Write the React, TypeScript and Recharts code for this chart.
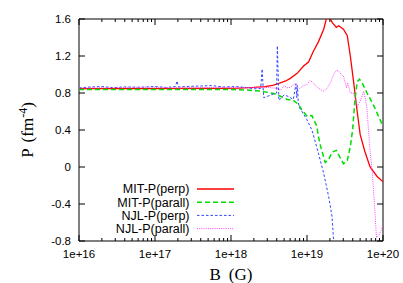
import { LineChart, Line, XAxis, YAxis, ReferenceArea, Legend, Label } from "recharts";

// log10(B) and P for each curve
const mitPerpLogB = [16, 16.5, 17, 17.5, 17.9, 18.1, 18.3, 18.45, 18.56, 18.65, 18.72, 18.78, 18.87, 18.955, 19.02, 19.086, 19.15, 19.22, 19.26, 19.29, 19.33, 19.386, 19.417, 19.48, 19.53, 19.57, 19.615, 19.66, 19.7, 19.76, 19.83, 19.92, 20];
const mitPerpP = [0.848, 0.848, 0.848, 0.849, 0.85, 0.853, 0.86, 0.87, 0.885, 0.91, 0.93, 0.958, 1.012, 1.092, 1.135, 1.255, 1.353, 1.49, 1.62, 1.636, 1.564, 1.51, 1.527, 1.49, 1.42, 1.2, 0.91, 0.6, 0.35, 0.17, 0.0, -0.1, -0.16];

const mitParLogB = [16, 17, 18, 18.2, 18.4, 18.56, 18.65, 18.74, 18.82, 18.89, 18.93, 19.0, 19.065, 19.13, 19.15, 19.18, 19.24, 19.285, 19.33, 19.386, 19.417, 19.48, 19.53, 19.57, 19.6, 19.63, 19.66, 19.69, 19.725, 19.79, 19.88, 20];
const mitParP = [0.838, 0.838, 0.838, 0.833, 0.82, 0.795, 0.765, 0.73, 0.72, 0.675, 0.62, 0.55, 0.555, 0.44, 0.33, 0.22, 0.05, 0.08, 0.16, 0.18, 0.13, 0.035, 0.07, 0.22, 0.4, 0.72, 0.92, 0.95, 0.91, 0.8, 0.66, 0.44];

const njlPerpLogB = [16, 16.15, 16.3, 16.45, 16.6, 16.8, 17, 17.15, 17.27, 17.29, 17.31, 17.45, 17.6, 17.75, 17.9, 18.05, 18.2, 18.3, 18.39, 18.41, 18.43, 18.5, 18.56, 18.6, 18.61, 18.63, 18.7, 18.76, 18.82, 18.855, 18.865, 18.875, 18.885, 18.9, 18.95, 19, 19.065, 19.15, 19.22, 19.285, 19.33, 19.35];
const njlPerpP = [0.855, 0.865, 0.87, 0.858, 0.866, 0.862, 0.87, 0.86, 0.87, 0.93, 0.865, 0.872, 0.876, 0.88, 0.865, 0.87, 0.86, 0.845, 0.85, 1.06, 0.75, 0.77, 0.79, 0.8, 1.31, 0.72, 0.78, 0.76, 0.73, 0.9, 0.75, 0.88, 0.7, 0.64, 0.58, 0.51, 0.4, 0.15, -0.07, -0.32, -0.54, -0.8];

const njlParLogB = [16, 16.4, 16.9, 17.3, 17.8, 18.2, 18.5, 18.6, 18.65, 18.7, 18.735, 18.78, 18.84, 18.9, 18.95, 19, 19.04, 19.09, 19.13, 19.175, 19.22, 19.26, 19.31, 19.35, 19.386, 19.417, 19.45, 19.48, 19.52, 19.535, 19.57, 19.61, 19.64, 19.66, 19.69, 19.725, 19.746, 19.77, 19.79, 19.825, 19.86, 19.89, 19.914, 19.945, 19.976, 20];
const njlParP = [0.855, 0.858, 0.862, 0.856, 0.86, 0.858, 0.86, 0.85, 0.83, 0.88, 0.857, 0.86, 0.9, 0.85, 0.88, 0.893, 0.936, 0.904, 0.868, 0.838, 0.82, 0.846, 0.911, 1.0, 1.045, 1.037, 1.0, 0.983, 0.857, 0.911, 0.8, 0.8, 0.73, 0.657, 0.694, 0.765, 0.82, 0.73, 0.62, 0.22, -0.07, -0.43, -0.76, -0.74, -0.685, -0.63];

const xMajorTicks = [1e16, 1e17, 1e18, 1e19, 1e20];
const yTicks = [-0.8, -0.4, 0, 0.4, 0.8, 1.2, 1.6];

const seriesNames = ["MIT-P(perp)", "MIT-P(parall)", "NJL-P(perp)", "NJL-P(parall)"];

const toRows = (logB: number[], p: number[]) => logB.map((e, i) => ({ b: Math.pow(10, e), p: p[i] }));

const xTicks: number[] = [];
xMajorTicks.forEach((m, i) => {
  xTicks.push(m);
  if (i < xMajorTicks.length - 1) for (let k = 2; k <= 9; k++) xTicks.push(k * m);
});

// plot box (px)
const PT = 19;
const PB = 241;
const PL = 79;
const PR = 383;
const sans = "'Liberation Sans', Arial, sans-serif";
const serif = "'Liberation Serif', 'Times New Roman', serif";

const styles = [
  { color: "#ff0000", width: 1.3, dash: undefined },
  { color: "#00dd00", width: 1.5, dash: "5 3" },
  { color: "#3344ff", width: 1, dash: "2.5 2" },
  { color: "#ff44ff", width: 1, dash: "1 1.2" },
];

function XTick(props: any) {
  const { x, payload } = props;
  const v = payload.value as number;
  const e = Math.round(Math.log10(v));
  const major = Math.abs(v - Math.pow(10, e)) < v * 1e-6;
  const len = major ? 6 : 3;
  return (
    <g>
      <line x1={x} x2={x} y1={PB} y2={PB - len} stroke="#000" strokeWidth={1} />
      <line x1={x} x2={x} y1={PT} y2={PT + len} stroke="#000" strokeWidth={1} />
      {major && (
        <text x={x} y={258} textAnchor="middle" fontSize={11.5} fontFamily={sans} fill="#000">
          {"1e+" + e}
        </text>
      )}
    </g>
  );
}

function YTick(props: any) {
  const { y, payload } = props;
  return (
    <g>
      <line x1={PL} x2={PL + 6} y1={y} y2={y} stroke="#000" strokeWidth={1} />
      <line x1={PR} x2={PR - 6} y1={y} y2={y} stroke="#000" strokeWidth={1} />
      <text x={71} y={y} dy="0.35em" textAnchor="end" fontSize={11.5} fontFamily={sans} fill="#000">
        {String(payload.value)}
      </text>
    </g>
  );
}

function LegendBox() {
  return (
    <svg width={170} height={60} style={{ display: "block" }}>
      {seriesNames.map((n, i) => {
        const cy = 9 + i * 13.2;
        const s = styles[i];
        return (
          <g key={n}>
            <text x={109.5} y={cy} dy="0.35em" textAnchor="end" fontSize={12.5} fontFamily={sans} fill="#000">
              {n}
            </text>
            <line x1={117} x2={154} y1={cy} y2={cy} stroke={s.color} strokeWidth={s.width} strokeDasharray={s.dash} />
          </g>
        );
      })}
    </svg>
  );
}

const YLabel = () => (
  <text transform="translate(33,130) rotate(-90)" textAnchor="middle" fontSize={17} fontFamily={serif} fill="#000">
    <tspan>P</tspan>
    <tspan dx={6}>(fm</tspan>
    <tspan dy={-6} fontSize={12}>-4</tspan>
    <tspan dy={6}>)</tspan>
  </text>
);

const XLabel = () => (
  <text x={231} y={280} textAnchor="middle" fontSize={17} fontFamily={serif} fill="#000">
    <tspan>B</tspan>
    <tspan dx={8}>(G)</tspan>
  </text>
);

export default function App() {
  const data = [
    toRows(mitPerpLogB, mitPerpP),
    toRows(mitParLogB, mitParP),
    toRows(njlPerpLogB, njlPerpP),
    toRows(njlParLogB, njlParP),
  ];
  return (
    <div style={{ position: "fixed", left: 0, top: 0, width: 403, height: 283, background: "#fff" }}>
      <LineChart width={403} height={283} margin={{ top: PT, right: 403 - PR, bottom: 0, left: 0 }}>
        <XAxis
          dataKey="b"
          type="number"
          scale="log"
          domain={[1e16, 1e20]}
          ticks={xTicks}
          interval={0}
          allowDataOverflow
          height={283 - PB}
          axisLine={false}
          tickLine={false}
          tick={<XTick />}
        >
          <Label content={<XLabel />} />
        </XAxis>
        <YAxis
          type="number"
          domain={[-0.8, 1.6]}
          ticks={yTicks}
          interval={0}
          allowDataOverflow
          width={PL}
          axisLine={false}
          tickLine={false}
          tick={<YTick />}
        >
          <Label content={<YLabel />} />
        </YAxis>
        <ReferenceArea x1={1e16} x2={1e20} y1={-0.8} y2={1.6} fill="none" stroke="#000" strokeWidth={1} />
        {data.map((rows, i) => (
          <Line
            key={seriesNames[i]}
            data={rows}
            dataKey="p"
            name={seriesNames[i]}
            type="linear"
            stroke={styles[i].color}
            strokeWidth={styles[i].width}
            strokeDasharray={styles[i].dash}
            dot={false}
            activeDot={false}
            isAnimationActive={false}
          />
        ))}
        <Legend
          layout="vertical"
          align="center"
          verticalAlign="middle"
          content={<LegendBox />}
          wrapperStyle={{ left: 80, top: 180, width: 170, height: 60 }}
        />
      </LineChart>
    </div>
  );
}
